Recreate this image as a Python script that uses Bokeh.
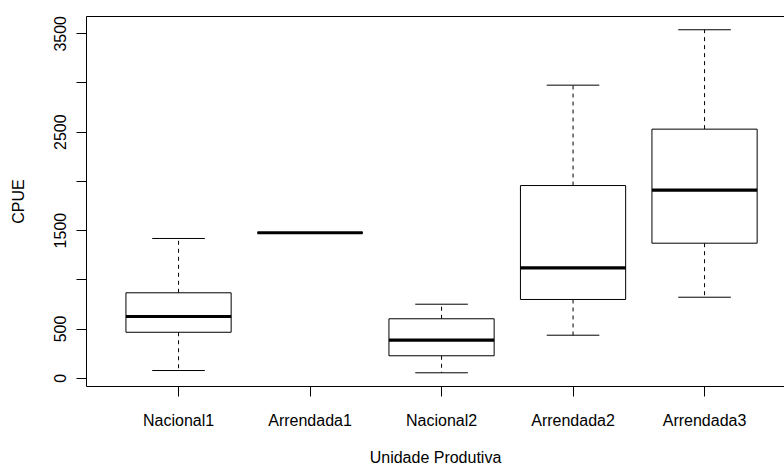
from bokeh.plotting import figure
from bokeh.models import ColumnDataSource, FixedTicker, LinearAxis, Range1d
from bokeh.embed import file_html
from bokeh.resources import INLINE

categories = ["Nacional1", "Arrendada1", "Nacional2", "Arrendada2", "Arrendada3"]
lower_whisker = [78, 1478, 55, 437, 823]
q1 = [467, 1478, 228, 800, 1372]
median = [627, 1478, 386, 1122, 1911]
q3 = [868, 1478, 604, 1958, 2531]
upper_whisker = [1420, 1478, 752, 2978, 3541]

y_ticks = [0, 500, 1000, 1500, 2000, 2500, 3000, 3500]
y_tick_labels = ["0", "500", "", "1500", "", "2500", "", "3500"]

x_label = "Unidade Produtiva"
y_label = "CPUE"

FONT = "Liberation Sans"
BOX_W = 0.8
CAP_W = 0.4

xs = list(range(1, len(categories) + 1))
src = ColumnDataSource(dict(
    x=xs,
    left=[x - BOX_W / 2 for x in xs],
    right=[x + BOX_W / 2 for x in xs],
    cl=[x - CAP_W / 2 for x in xs],
    cr=[x + CAP_W / 2 for x in xs],
    lw=lower_whisker, q1=q1, med=median, q3=q3, uw=upper_whisker,
))

p = figure(width=784, height=468, output_backend="svg", toolbar_location=None,
           x_range=Range1d(0.3, 5.608), y_range=Range1d(-84.3, 3675.8),
           min_border_left=86, min_border_right=0, min_border_top=16,
           min_border_bottom=82)
p.outline_line_color = None
p.xgrid.visible = False
p.ygrid.visible = False
p.background_fill_color = "white"
p.border_fill_color = "white"

# whiskers (dashed)
p.segment(x0="x", x1="x", y0="q3", y1="uw", source=src, line_color="black",
          line_width=1, line_dash="4 4")
p.segment(x0="x", x1="x", y0="q1", y1="lw", source=src, line_color="black",
          line_width=1, line_dash="4 4")
# caps
p.segment(x0="cl", x1="cr", y0="uw", y1="uw", source=src, line_color="black", line_width=1)
p.segment(x0="cl", x1="cr", y0="lw", y1="lw", source=src, line_color="black", line_width=1)
# boxes
p.quad(left="left", right="right", bottom="q1", top="q3", source=src,
       fill_color="white", line_color="black", line_width=1)
# medians
p.segment(x0="left", x1="right", y0="med", y1="med", source=src, line_color="black",
          line_width=3.2, line_cap="butt")

# axes
xa = p.xaxis[0]
xa.ticker = FixedTicker(ticks=xs)
xa.major_label_overrides = {x: c for x, c in zip(xs, categories)}
xa.axis_label = x_label
ya = p.yaxis[0]
ya.ticker = FixedTicker(ticks=y_ticks)
ya.major_label_overrides = {t: l for t, l in zip(y_ticks, y_tick_labels)}
ya.major_label_orientation = "vertical"
ya.axis_label = y_label

for ax in (xa, ya):
    ax.axis_line_color = "black"
    ax.axis_line_width = 1
    ax.major_tick_line_color = "black"
    ax.major_tick_in = 0
    ax.major_tick_out = 10
    ax.minor_tick_line_color = None
    ax.major_label_text_font = FONT
    ax.major_label_text_font_size = "16px"
    ax.major_label_text_color = "black"
    ax.axis_label_text_font = FONT
    ax.axis_label_text_font_size = "16px"
    ax.axis_label_text_font_style = "normal"
    ax.axis_label_text_color = "black"

xa.major_label_standoff = 15
xa.axis_label_standoff = 17
ya.major_label_standoff = 10
ya.axis_label_standoff = 25

top = LinearAxis(ticker=FixedTicker(ticks=[]), axis_line_color="black",
                 major_tick_line_color=None, minor_tick_line_color=None)
p.add_layout(top, "above")

open("out.html", "w").write(file_html(p, INLINE))
